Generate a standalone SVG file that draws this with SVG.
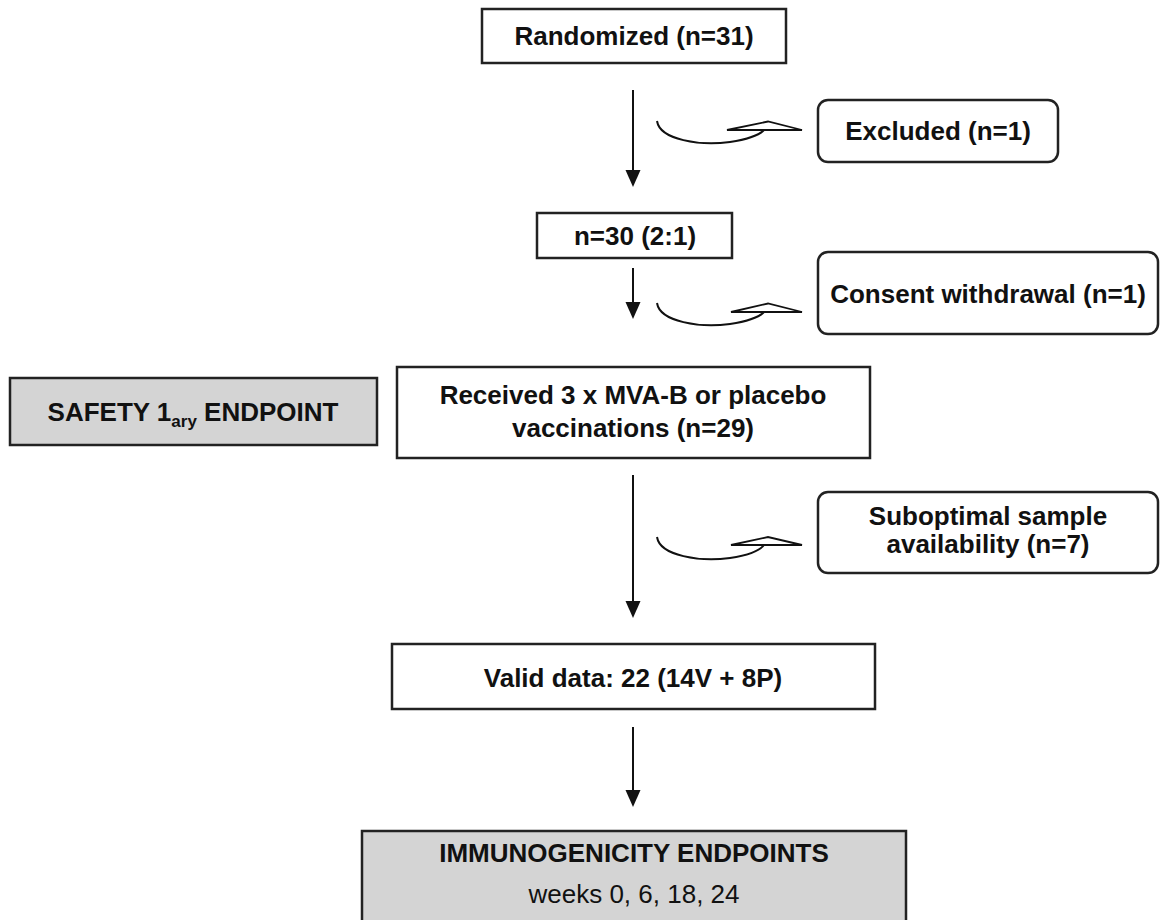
<svg xmlns="http://www.w3.org/2000/svg" width="1160" height="920" viewBox="0 0 1160 920">
<defs>
<style>
.box{fill:#fff;stroke:#222;stroke-width:2.5}
.gray{fill:#d4d4d4;stroke:#222;stroke-width:2.5}
.t{font-family:"Liberation Sans",Arial,sans-serif;font-size:26px;font-weight:bold;fill:#111;text-anchor:middle}
.r{font-weight:normal}
.ln{stroke:#111;stroke-width:2;fill:none}
.curve{stroke:#111;stroke-width:2;fill:none}
.head{fill:#fff;stroke:#111;stroke-width:1.8;stroke-linejoin:miter}
</style>
<marker id="ah" viewBox="0 0 16 18" refX="8" refY="18" markerWidth="16" markerHeight="18" markerUnits="userSpaceOnUse" orient="auto-start-reverse">
<path d="M0 0 L16 0 L8 18 Z" fill="#111"/>
</marker>
</defs>
<rect width="1160" height="920" fill="#fff"/>
<g id="connectors">
<line class="ln" x1="633" y1="90" x2="633" y2="170"/>
<path d="M625.5 170 L640.5 170 L633 187 Z" fill="#111"/>
<line class="ln" x1="633" y1="268" x2="633" y2="302"/>
<path d="M625.5 302 L640.5 302 L633 319 Z" fill="#111"/>
<line class="ln" x1="633" y1="475" x2="633" y2="601"/>
<path d="M625.5 601 L640.5 601 L633 618 Z" fill="#111"/>
<line class="ln" x1="633" y1="727" x2="633" y2="790"/>
<path d="M625.5 790 L640.5 790 L633 807 Z" fill="#111"/>
<g id="exc1">
<path class="curve" d="M657 121 C660 140 700 146 730 142 C750 139 760 134 764 130"/>
<polygon class="head" points="727,130 768,121.5 802,130"/>
</g>
<g id="exc2">
<path class="curve" d="M657 303 C660 322 700 328 730 324 C750 321 760 316 764 312"/>
<polygon class="head" points="731,312 768,303.5 802,312"/>
</g>
<g id="exc3">
<path class="curve" d="M657 537 C660 556 700 562 730 558 C750 555 760 550 764 545"/>
<polygon class="head" points="731,545 768,537 802,545"/>
</g>
</g>
<g id="randomized">
<rect class="box" x="482" y="9" width="304" height="54"/>
<text class="t" x="634" y="45">Randomized (n=31)</text>
</g>
<g id="excluded">
<rect class="box" x="818" y="100" width="240" height="62" rx="10"/>
<text class="t" x="938" y="140">Excluded (n=1)</text>
</g>
<g id="n30">
<rect class="box" x="537" y="213" width="195" height="45"/>
<text class="t" x="635" y="245">n=30 (2:1)</text>
</g>
<g id="consent">
<rect class="box" x="818" y="252" width="340" height="82" rx="10"/>
<text class="t" x="988" y="303">Consent withdrawal (n=1)</text>
</g>
<g id="safety">
<rect class="gray" x="10" y="378" width="367" height="67"/>
<text class="t" x="193" y="421">SAFETY 1<tspan font-size="17" dy="6">ary</tspan><tspan dy="-6"> ENDPOINT</tspan></text>
</g>
<g id="received">
<rect class="box" x="397" y="367" width="473" height="91"/>
<text class="t" x="633" y="404">Received 3 x MVA-B or placebo</text>
<text class="t" x="633" y="437">vaccinations (n=29)</text>
</g>
<g id="suboptimal">
<rect class="box" x="818" y="492" width="340" height="81" rx="10"/>
<text class="t" x="988" y="525">Suboptimal sample</text>
<text class="t" x="988" y="553">availability (n=7)</text>
</g>
<g id="valid">
<rect class="box" x="392" y="644" width="483" height="65"/>
<text class="t" x="633" y="687">Valid data: 22 (14V + 8P)</text>
</g>
<g id="immuno">
<rect class="gray" x="362" y="831" width="544" height="100"/>
<text class="t" x="634" y="862">IMMUNOGENICITY ENDPOINTS</text>
<text class="t r" x="634" y="903">weeks 0, 6, 18, 24</text>
</g>
</svg>
